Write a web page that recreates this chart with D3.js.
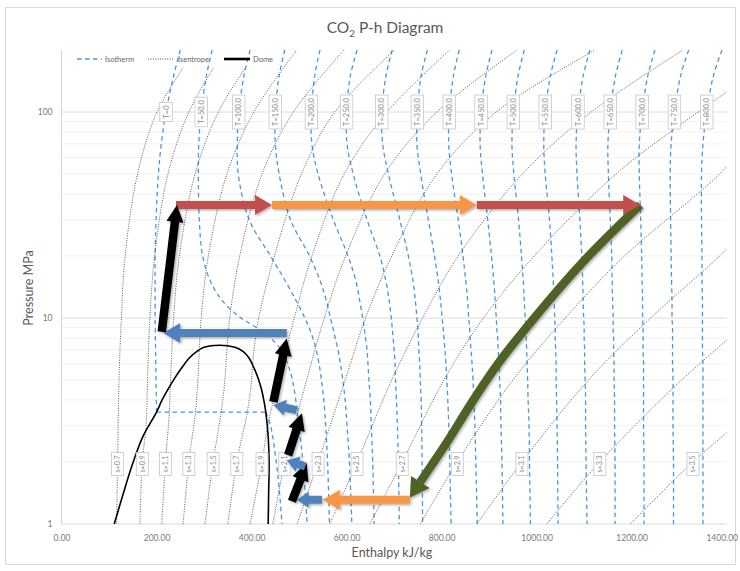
<!DOCTYPE html>
<html>
<head>
<meta charset="utf-8">
<script src="https://cdn.jsdelivr.net/npm/d3@7"></script>
<style>
  html, body { margin: 0; padding: 0; background: #fff; overflow: hidden; }
  svg { font-family: Lato, "Open Sans", sans-serif; display: block; }
</style>
</head>
<body>
<svg id="chart" width="740" height="571"></svg>
<script>

// isotermas T=50..800 num grid de pressões comum
const isoTemps = [50, 100, 150, 200, 250, 300, 350, 400, 450, 500, 550, 600, 650, 700, 750, 800];
const isoP = [200, 150, 100, 70, 50, 30, 20, 15, 12, 10, 9, 8, 7, 6, 5, 4, 3, 2, 1];
const isoH = [
  [317, 305, 294, 289, 288, 290, 297, 314, 340, 378, 410, 440, 462, 476, 486, 493, 500, 508, 517],
  [397, 384, 373, 370, 372, 395, 440, 472, 495, 512, 521, 529, 536, 542, 547, 552, 556, 560, 564],
  [470, 458, 450, 450, 458, 482, 522, 545, 558, 566, 571, 576, 582, 587, 592, 597, 601, 606, 611],
  [544, 533, 526, 527, 540, 572, 603, 620, 628, 634, 637, 640, 643, 645, 647, 650, 652, 655, 658],
  [622, 608, 600, 601, 614, 643, 670, 683, 690, 694, 696, 698, 700, 702, 703, 705, 707, 709, 711],
  [696, 683, 674, 676, 688, 712, 730, 740, 745, 748, 750, 751, 752, 754, 755, 757, 758, 759, 760],
  [770, 757, 749, 748, 756, 772, 785, 793, 798, 801, 803, 805, 807, 809, 811, 813, 815, 817, 820],
  [837, 825, 816, 815, 821, 835, 845, 851, 855, 857, 859, 860, 862, 864, 866, 868, 870, 872, 875],
  [906, 893, 883, 881, 886, 897, 905, 910, 913, 915, 916, 918, 919, 921, 922, 924, 925, 927, 929],
  [974, 961, 951, 948, 952, 962, 968, 972, 974, 976, 977, 978, 979, 980, 981, 982, 984, 985, 987],
  [1043, 1029, 1018, 1015, 1018, 1027, 1032, 1035, 1037, 1038, 1039, 1039, 1040, 1041, 1041, 1042, 1043, 1044, 1045],
  [1112, 1098, 1087, 1083, 1085, 1091, 1095, 1097, 1098, 1099, 1100, 1100, 1101, 1101, 1102, 1103, 1103, 1104, 1106],
  [1180, 1166, 1155, 1150, 1151, 1155, 1158, 1159, 1160, 1161, 1161, 1162, 1162, 1163, 1163, 1164, 1164, 1165, 1165],
  [1249, 1234, 1222, 1216, 1216, 1219, 1221, 1222, 1223, 1223, 1224, 1224, 1224, 1225, 1225, 1225, 1225, 1226, 1226],
  [1320, 1303, 1290, 1283, 1281, 1282, 1283, 1284, 1285, 1285, 1286, 1286, 1286, 1286, 1287, 1287, 1287, 1288, 1288],
  [1390, 1372, 1358, 1350, 1347, 1347, 1348, 1348, 1349, 1349, 1349, 1349, 1349, 1350, 1350, 1350, 1350, 1350, 1350]
];

// isoterma T=0: parte líquida, trecho no domo (3.49 MPa) e parte vapor
const iso0LiqP = [200, 150, 100, 70, 50, 30, 20, 15, 10, 7, 5, 3.49];
const iso0LiqH = [250, 236, 220, 210, 204, 199, 197, 197, 197, 198, 199, 200];
const iso0VapP = [3.49, 3, 2, 1.5, 1];
const iso0VapH = [430, 440, 452, 458, 464];

// isentrópicas (cada uma com suas pressões)
const isenS = [0.7, 0.9, 1.1, 1.3, 1.5, 1.7, 1.9, 2.1, 2.3, 2.5, 2.7, 2.9, 3.1, 3.3, 3.5];
const isenP = [
  [1, 2, 5, 10, 20, 50, 100, 165],
  [1, 2, 3, 5, 10, 20, 50, 100, 165],
  [1, 2, 3.49, 4.7, 10, 20, 50, 100, 162],
  [1, 2, 3.49, 5, 7, 10, 20, 50, 100, 200],
  [1, 2, 3.49, 5, 7, 10, 20, 50, 100, 200],
  [1, 2, 3.49, 5, 6, 7, 10, 20, 50, 100, 200],
  [1, 2, 3, 5, 10, 20, 50, 100, 200],
  [1, 2, 5, 10, 20, 50, 100, 200],
  [1, 2, 5, 10, 20, 50, 100, 200],
  [1, 2, 5, 10, 20, 50, 100, 200],
  [1, 2, 5, 10, 20, 50, 100, 150],
  [1, 2, 5, 10, 20, 50, 70],
  [1, 2, 5, 10, 20, 30],
  [1, 2, 5, 10],
  [1, 2, 3]
];
const isenH = [
  [116, 118, 121, 126, 134, 160, 201, 257],
  [165, 170, 178, 181, 186, 196, 224, 268, 321],
  [211, 219, 227, 229, 236, 248, 281, 330, 386],
  [256, 268, 282, 287, 290, 294, 309, 348, 405, 495],
  [302, 319, 336, 344, 348, 354, 375, 422, 488, 595],
  [350, 369, 391, 400, 402, 405, 415, 448, 505, 575, 701],
  [397, 422, 434, 457, 490, 527, 595, 685, 817],
  [445, 470, 516, 553, 598, 680, 790, 959],
  [496, 540, 597, 640, 695, 790, 915, 1123],
  [565, 622, 695, 760, 835, 970, 1115, 1308],
  [649, 717, 805, 888, 995, 1167, 1340, 1450],
  [755, 833, 950, 1060, 1185, 1385, 1440],
  [874, 969, 1109, 1240, 1385, 1460],
  [1021, 1133, 1305, 1455],
  [1197, 1329, 1418]
];

// domo de saturação
const domeH = [111, 131, 150, 171, 200, 211, 224, 238, 253, 270, 285, 300, 332,
               365, 382, 394, 405, 414, 421, 426, 430, 435, 437, 436, 435];
const domeP = [1.0, 1.43, 1.97, 2.65, 3.49, 3.97, 4.50, 5.09, 5.73, 6.43, 6.89, 7.21, 7.38,
               7.21, 6.89, 6.43, 5.73, 5.09, 4.50, 3.97, 3.49, 2.65, 1.97, 1.43, 1.0];

// setas do ciclo (início -> fim)
const arrowFromH = [241, 443, 874, 733, 548, 485, 513, 477, 495, 446, 474, 211];
const arrowFromP = [35.4, 35.4, 35.4, 1.31, 1.31, 1.29, 1.9, 2.16, 3.57, 3.92, 8.46, 8.58];
const arrowToH   = [443, 874, 1218, 550, 495, 516, 474, 506, 446, 474, 214, 243];
const arrowToP   = [35.4, 35.4, 35.4, 1.31, 1.31, 1.97, 2.04, 3.45, 3.78, 7.96, 8.46, 35.4];
const arrowKind  = ["red", "orange", "red", "orange", "blue", "black", "blue", "black", "blue", "black", "blue", "black"];

// expansão (seta verde curva)
const expH = [1218, 1091, 986, 917, 853, 811, 776, 733];
const expP = [35.4, 18.5, 9.45, 6.05, 3.58, 2.47, 1.89, 1.34];

const xTicks = [0, 200, 400, 600, 800, 1000, 1200, 1400];
const yTicks = [1, 10, 100];

// ---- estilos ----
const arrowColors = { red: "#c0504d", orange: "#f79646", blue: "#4f81bd", black: "#000000" };
const isoColor = "#4f94d4";
const isenColor = "#4a4a4a";

const svg = d3.select("#chart");

// moldura externa do gráfico
svg.append("rect")
  .attr("x", 5.5).attr("y", 7.5).attr("width", 730).attr("height", 557)
  .attr("fill", "#fff").attr("stroke", "#d9d9d9");

const x = d3.scaleLinear().domain([0, 1400]).range([61.5, 726.7]);
const y = d3.scaleLog().domain([1, 200]).range([524, 50]);

const defs = svg.append("defs");
defs.append("clipPath").attr("id", "plot-clip")
  .append("rect").attr("x", x(0)).attr("y", y(200))
  .attr("width", x(1400) - x(0)).attr("height", y(1) - y(200));

const shadow = defs.append("filter").attr("id", "shadow")
  .attr("x", "-20%").attr("y", "-20%").attr("width", "140%").attr("height", "140%");
shadow.append("feDropShadow").attr("dx", 1.5).attr("dy", 1.5)
  .attr("stdDeviation", 1.2).attr("flood-color", "#000").attr("flood-opacity", 0.3);

// grades horizontais
const minorTicks = [2, 3, 4, 5, 6, 7, 8, 9, 20, 30, 40, 50, 60, 70, 80, 90];
svg.append("g").selectAll("line").data(minorTicks).enter().append("line")
  .attr("x1", x(0)).attr("x2", x(1400))
  .attr("y1", d => y(d)).attr("y2", d => y(d))
  .attr("stroke", "#f2f2f2").attr("stroke-width", 1);

svg.append("g").selectAll("line").data(yTicks).enter().append("line")
  .attr("x1", x(0)).attr("x2", x(1400))
  .attr("y1", d => y(d)).attr("y2", d => y(d))
  .attr("stroke", "#dcdcdc").attr("stroke-width", 1);

svg.append("line")
  .attr("x1", x(0)).attr("x2", x(0)).attr("y1", y(200)).attr("y2", y(1))
  .attr("stroke", "#d4d4d4");

// eixos
const yAxis = svg.append("g")
  .attr("transform", `translate(${x(0) - 6},0)`)
  .call(d3.axisLeft(y).tickValues(yTicks).tickFormat(d3.format("d")).tickSize(0));
const xAxis = svg.append("g")
  .attr("transform", `translate(0,${y(1) + 8})`)
  .call(d3.axisBottom(x).tickValues(xTicks).tickFormat(d3.format(".2f")).tickSize(0));
[yAxis, xAxis].forEach(ax => {
  ax.select(".domain").remove();
  ax.selectAll("text").attr("font-size", 8.5).attr("fill", "#7a7a7a")
    .attr("font-family", "Lato, sans-serif");
});
// o último rótulo encosta na borda: puxa um pouco pra esquerda
xAxis.selectAll(".tick").filter(d => d === 1400).select("text").attr("dx", -5);

const line = d3.line()
  .x(d => x(d[0]))
  .y(d => y(d[1]))
  .curve(d3.curveCatmullRom.alpha(0.5));
const straight = d3.line().x(d => x(d[0])).y(d => y(d[1]));

const plot = svg.append("g").attr("clip-path", "url(#plot-clip)");

// isotermas
const iso0Liq = iso0LiqP.map((p, i) => [iso0LiqH[i], p]);
const iso0Vap = iso0VapP.map((p, i) => [iso0VapH[i], p]);
const isoLines = [{ T: 0, pts: iso0Liq.concat(iso0Vap) }]
  .concat(isoTemps.map((T, k) => ({ T, pts: isoP.map((p, i) => [isoH[k][i], p]) })));

function isoPath(d) {
  if (d.T !== 0) return line(d.pts);
  // T=0: líquido + patamar reto no domo + vapor
  return line(iso0Liq) +
    straight([iso0Liq[iso0Liq.length - 1], iso0Vap[0]]) +
    line(iso0Vap);
}

plot.append("g").selectAll("path").data(isoLines).enter().append("path")
  .attr("d", isoPath)
  .attr("fill", "none")
  .attr("stroke", isoColor)
  .attr("stroke-width", 1.3)
  .attr("stroke-dasharray", "4.5,3.5");

// isentrópicas
const isenLines = isenS.map((s, k) => ({ s, pts: isenP[k].map((p, i) => [isenH[k][i], p]) }));

plot.append("g").selectAll("path").data(isenLines).enter().append("path")
  .attr("d", d => line(d.pts))
  .attr("fill", "none")
  .attr("stroke", isenColor)
  .attr("stroke-width", 0.9)
  .attr("stroke-dasharray", "1,1.4");

// domo
plot.append("path")
  .attr("d", line(domeH.map((h, i) => [h, domeP[i]])))
  .attr("fill", "none")
  .attr("stroke", "#000")
  .attr("stroke-width", 1.6);

// etiquetas das curvas (caixinhas rotacionadas)
function tag(parent, cx, cy, label, fs) {
  const g = parent.append("g").attr("transform", `translate(${cx},${cy}) rotate(-90)`);
  const t = g.append("text")
    .attr("text-anchor", "middle")
    .attr("dy", "0.35em")
    .attr("font-size", fs)
    .attr("fill", "#8a8a8a")
    .text(label);
  const len = t.node().getComputedTextLength();
  g.insert("rect", "text")
    .attr("x", -len / 2 - 3).attr("y", -fs / 2 - 2.5)
    .attr("width", len + 6).attr("height", fs + 5)
    .attr("fill", "#fff").attr("stroke", "#c6c6c6").attr("stroke-width", 0.8);
}

const tags = svg.append("g");
isoLines.forEach(d => {
  const pt = d.pts.find(p => p[1] === 100);
  tag(tags, x(pt[0]), y(pt[1]), d.T === 0 ? "T=0" : "T=" + d.T.toFixed(1), 7.5);
});
isenLines.forEach(d => {
  const pt = d.pts.find(p => p[1] === 2);
  tag(tags, x(pt[0]), y(pt[1]) + 2, "s=" + d.s.toFixed(1), 7);
});

// legenda
const legend = svg.append("g").attr("font-size", 7.5).attr("fill", "#666");
legend.append("line").attr("x1", 77).attr("x2", 102).attr("y1", 59).attr("y2", 59)
  .attr("stroke", isoColor).attr("stroke-width", 1.6).attr("stroke-dasharray", "4.5,3.5");
legend.append("text").attr("x", 105).attr("y", 61.5).text("Isotherm");
legend.append("line").attr("x1", 148).attr("x2", 173).attr("y1", 59).attr("y2", 59)
  .attr("stroke", isenColor).attr("stroke-width", 1).attr("stroke-dasharray", "1,1.4");
legend.append("text").attr("x", 178).attr("y", 61.5).text("Isentrope");
legend.append("line").attr("x1", 224).attr("x2", 250).attr("y1", 59).attr("y2", 59)
  .attr("stroke", "#000").attr("stroke-width", 2.6);
legend.append("text").attr("x", 253).attr("y", 61.5).text("Dome");

// títulos
const title = svg.append("text")
  .attr("x", 385).attr("y", 33)
  .attr("text-anchor", "middle")
  .attr("font-size", 15.5)
  .attr("fill", "#595959");
title.append("tspan").text("CO");
title.append("tspan").attr("font-size", 10).attr("dy", 4).text("2");
title.append("tspan").attr("dy", -4).text(" P-h Diagram");

svg.append("text")
  .attr("x", 392).attr("y", 557)
  .attr("text-anchor", "middle")
  .attr("font-size", 12.5)
  .attr("fill", "#595959")
  .text("Enthalpy kJ/kg");

svg.append("text")
  .attr("transform", "translate(33,288) rotate(-90)")
  .attr("text-anchor", "middle")
  .attr("font-size", 12.5)
  .attr("fill", "#595959")
  .text("Pressure MPa");

// setas do ciclo
function arrowPoints(x0, y0, x1, y1, w, hw, hl) {
  const dx = x1 - x0, dy = y1 - y0;
  const len = Math.hypot(dx, dy);
  const ux = dx / len, uy = dy / len;
  const nx = -uy, ny = ux;
  const bx = x1 - ux * hl, by = y1 - uy * hl;
  return [
    [x0 + nx * w / 2, y0 + ny * w / 2],
    [bx + nx * w / 2, by + ny * w / 2],
    [bx + nx * hw / 2, by + ny * hw / 2],
    [x1, y1],
    [bx - nx * hw / 2, by - ny * hw / 2],
    [bx - nx * w / 2, by - ny * w / 2],
    [x0 - nx * w / 2, y0 - ny * w / 2]
  ];
}

const arrows = svg.append("g").attr("filter", "url(#shadow)");

// expansão verde (b-spline pra ficar suave como a forma do Excel)
const expPx = expH.map((h, i) => [x(h), y(expP[i])]);
const tip = expPx[expPx.length - 1];
const prev = expPx[expPx.length - 2];
const hl = 19;
const el = Math.hypot(tip[0] - prev[0], tip[1] - prev[1]);
const ux = (tip[0] - prev[0]) / el, uy = (tip[1] - prev[1]) / el;
const base = [tip[0] - ux * hl, tip[1] - uy * hl];
const shaftPts = expPx.slice(0, -1).concat([base]);

arrows.append("path")
  .attr("d", d3.line().curve(d3.curveBasis)(shaftPts))
  .attr("fill", "none")
  .attr("stroke", "#4f6228")
  .attr("stroke-width", 8.5);
arrows.append("polygon")
  .attr("points", arrowPoints(base[0] + ux * 2, base[1] + uy * 2, tip[0], tip[1], 0, 22, hl)
    .map(p => p.join(",")).join(" "))
  .attr("fill", "#4f6228");

arrowKind.forEach((kind, i) => {
  const x0 = x(arrowFromH[i]), y0 = y(arrowFromP[i]);
  const x1 = x(arrowToH[i]), y1 = y(arrowToP[i]);
  const len = Math.hypot(x1 - x0, y1 - y0);
  const small = len < 30;
  const w = kind === "black" ? 8.5 : 8;
  const hw = small ? 16 : (kind === "black" ? 17 : 20);
  const head = small ? 12 : 17;
  arrows.append("polygon")
    .attr("points", arrowPoints(x0, y0, x1, y1, w, hw, head).map(p => p.join(",")).join(" "))
    .attr("fill", arrowColors[kind]);
});
</script>
</body>
</html>
